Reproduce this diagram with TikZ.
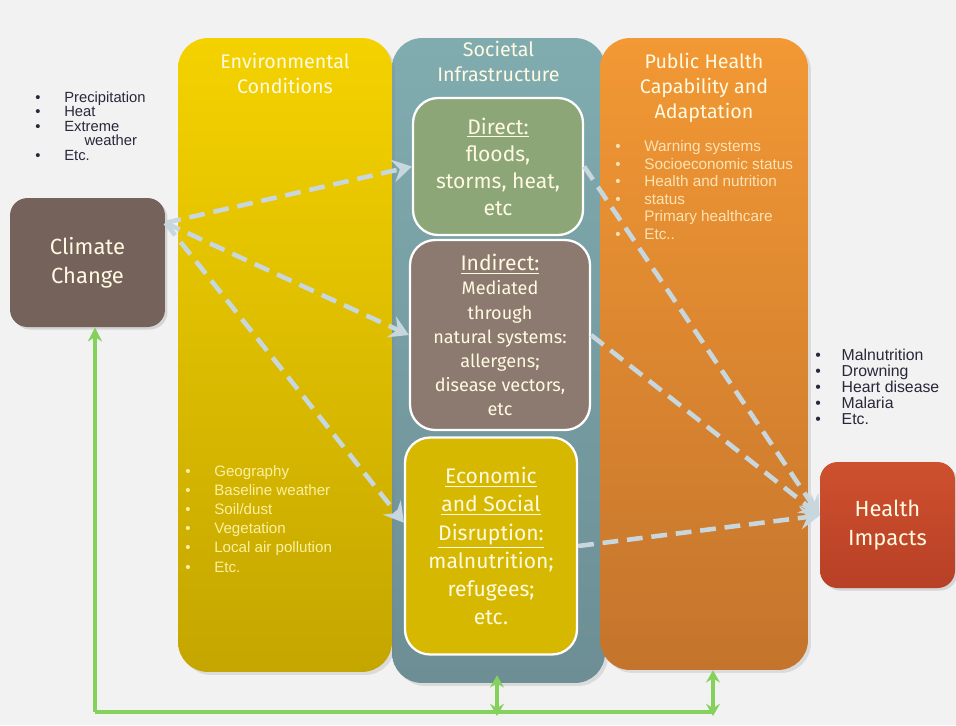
\documentclass[tikz,border=0pt]{standalone}
\usepackage{fontspec}
\setmainfont{Liberation Sans}
\newfontfamily\boxfont{Fira Sans}
\usetikzlibrary{arrows, arrows.meta, positioning, shadows}

\definecolor{bgcol}{RGB}{242,242,242}
\definecolor{cccol}{RGB}{117,98,90}
\definecolor{envtop}{RGB}{244,210,0}
\definecolor{envbot}{RGB}{196,166,0}
\definecolor{soctop}{RGB}{128,172,176}
\definecolor{socbot}{RGB}{108,142,148}
\definecolor{phtop}{RGB}{242,152,52}
\definecolor{phbot}{RGB}{196,116,44}
\definecolor{dircol}{RGB}{140,166,120}
\definecolor{indcol}{RGB}{140,121,111}
\definecolor{ecocol}{RGB}{214,184,0}
\definecolor{hitop}{RGB}{206,80,46}
\definecolor{hibot}{RGB}{184,64,38}
\definecolor{arrcol}{RGB}{200,214,222}
\definecolor{grn}{RGB}{132,210,92}
\definecolor{titcol}{RGB}{255,250,225}
\definecolor{phtxt}{RGB}{252,226,180}
\definecolor{envtxt}{RGB}{250,240,160}
\definecolor{lsttxt}{RGB}{40,40,58}

\tikzstyle{col}=[rounded corners=0.6cm, inner sep=0pt, drop shadow={opacity=0.2, shadow xshift=0.06cm, shadow yshift=-0.06cm}]
\tikzstyle{ttl}=[text=titcol, align=center, inner sep=0pt, font=\boxfont\fontsize{11.2}{14.2}\selectfont]
\tikzstyle{inbox}=[draw=white, line width=1.3pt, rounded corners=0.5cm, text=titcol, align=center, inner sep=0pt]
\tikzstyle{endbox}=[rounded corners=0.35cm, text=titcol, align=center, inner sep=0pt, font=\boxfont\fontsize{12.5}{16.5}\selectfont, drop shadow={opacity=0.25, shadow xshift=0.05cm, shadow yshift=-0.05cm}]
\tikzstyle{lst}=[align=left, inner sep=0pt, anchor=north west]
\tikzstyle{darr}=[line width=2.6pt, draw=arrcol, dash pattern=on 9pt off 5pt, -{Stealth[length=11pt, width=13pt, inset=4pt]}]
\tikzstyle{garr}=[line width=2pt, draw=grn, -{Stealth[length=8pt, width=8pt, inset=2.5pt]}]
\tikzstyle{gboth}=[line width=2pt, draw=grn, {Stealth[length=7pt, width=8pt, inset=2.5pt]}-{Stealth[length=7pt, width=8pt, inset=2.5pt]}]

\newcommand{\bul}{\makebox[16.5pt][l]{\textbullet}}

\begin{document}
\begin{tikzpicture}[x=0.02cm, y=-0.02cm]
    \useasboundingbox (0,0) rectangle (956,725);
    \fill[bgcol] (0,0) rectangle (956,725);

    % columns
    \node [col, top color=soctop, bottom color=socbot, minimum width=4.26cm, minimum height=12.9cm] (Soc) at (498.5,360.5) {};
    \node [col, top color=envtop, bottom color=envbot, minimum width=4.28cm, minimum height=12.68cm] (Env) at (285,355) {};
    \node [col, top color=phtop, bottom color=phbot, minimum width=4.16cm, minimum height=12.64cm] (PH) at (704,354) {};

    \node [ttl, below=0.3cm of Env.north] (EnvT) {Environmental\\Conditions};
    \node [ttl, below=0.06cm of Soc.north] (SocT) {Societal\\Infrastructure};
    \node [ttl, below=0.3cm of PH.north] (PHT) {Public Health\\Capability and\\Adaptation};

    % boxes inside
    \node [inbox, fill=dircol, minimum width=3.4cm, minimum height=2.74cm,
           font=\boxfont\fontsize{12}{15.4}\selectfont] (Dir) at (498,166.5)
           {\underline{Direct:}\\floods,\\storms, heat,\\etc};
    \node [inbox, fill=indcol, minimum width=3.6cm, minimum height=3.8cm,
           font=\boxfont\fontsize{10.3}{13.7}\selectfont] (Ind) at (500,335)
           {{\fontsize{12}{13.7}\selectfont\underline{Indirect:}}\\Mediated\\through\\natural systems:\\allergens;\\disease vectors,\\etc};
    \node [inbox, fill=ecocol, minimum width=3.44cm, minimum height=4.34cm,
           font=\boxfont\fontsize{12}{16}\selectfont] (Eco) at (491,546)
           {\underline{Economic}\\\underline{and Social}\\\underline{Disruption:}\\malnutrition;\\refugees;\\etc.};

    \node [endbox, fill=cccol, minimum width=3.1cm, minimum height=2.58cm] (CC) at (87.5,262.5) {Climate\\Change};
    \node [endbox, top color=hitop, bottom color=hibot, minimum width=2.7cm, minimum height=2.52cm] (HI) at (887.5,525) {Health\\Impacts};

    % lists
    \node [lst, text=lsttxt, font=\fontsize{8.4}{8.3}\selectfont] (CCl) at (35,91)
        {\bul Precipitation\\\bul Heat\\\bul Extreme\\\hspace{28pt}weather\\\bul Etc.};
    \node [lst, text=envtxt, font=\fontsize{8.6}{10.9}\selectfont] (Envl) at (185,465)
        {\bul Geography\\\bul Baseline weather\\\bul Soil/dust\\\bul Vegetation\\\bul Local air pollution\\\bul Etc.};
    \node [lst, text=phtxt, font=\fontsize{8.7}{10}\selectfont] (PHl) at (615,140)
        {\bul Warning systems\\\bul Socioeconomic status\\\bul Health and nutrition\\\bul status\\\bul Primary healthcare\\\bul Etc..};
    \node [lst, text=lsttxt, font=\fontsize{9}{9.1}\selectfont] (HIl) at (815,349)
        {\makebox[15pt][l]{\textbullet}Malnutrition\\\makebox[15pt][l]{\textbullet}Drowning\\\makebox[15pt][l]{\textbullet}Heart disease\\\makebox[15pt][l]{\textbullet}Malaria\\\makebox[15pt][l]{\textbullet}Etc.};

    % dashed arrows
    \path (CC.27) edge[darr] (Dir.west);
    \path (CC.27) edge[darr] (Ind.west);
    \path (CC.27) edge[darr] (Eco.165);
    \path (Dir.east) edge[darr] (HI.172);
    \path (Ind.east) edge[darr] (HI.172);
    \path (Eco.east) edge[darr] (HI.172);

    % green feedback lines
    \coordinate (gl) at (95,712);
    \coordinate (g1) at (497,712);
    \coordinate (g2) at (713,712);
    \draw[garr] (gl) -- (gl |- CC.south);
    \draw[line width=2pt, draw=grn] (gl) -- (g2);
    \draw[gboth] ([yshift=-0.08cm]g1) -- ([yshift=0.16cm]g1 |- Soc.south);
    \draw[gboth] ([yshift=-0.08cm]g2) -- (g2 |- PH.south);
\end{tikzpicture}
\end{document}
